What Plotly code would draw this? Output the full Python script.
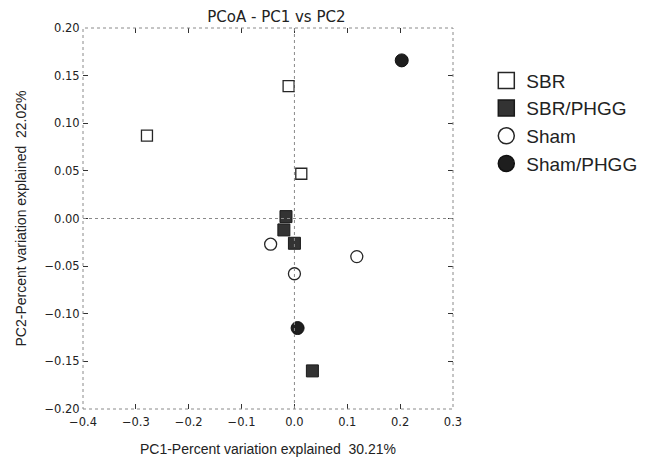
import plotly.graph_objects as go

groups = ["SBR", "SBR/PHGG", "Sham", "Sham/PHGG"]
sbr_x = [-0.279, -0.011, 0.013]
sbr_y = [0.087, 0.139, 0.047]
sbrp_x = [-0.016, -0.020, 0.000, 0.034]
sbrp_y = [0.002, -0.012, -0.026, -0.160]
sham_x = [-0.045, 0.000, 0.118]
sham_y = [-0.027, -0.058, -0.040]
shamp_x = [0.203, 0.006]
shamp_y = [0.166, -0.115]

x_ticks = [-0.4, -0.3, -0.2, -0.1, 0.0, 0.1, 0.2, 0.3]
y_ticks = [-0.20, -0.15, -0.10, -0.05, 0.00, 0.05, 0.10, 0.15, 0.20]

dark = "#262626"
styles = [
    dict(symbol="square-open", color=dark, size=11, line=dict(width=1.3, color=dark)),
    dict(symbol="square", color="#333333", size=12, line=dict(width=1, color="#1a1a1a")),
    dict(symbol="circle-open", color=dark, size=12, line=dict(width=1.3, color=dark)),
    dict(symbol="circle", color="#1e1e1e", size=13, line=dict(width=1, color="#111111")),
]
data = [(sbr_x, sbr_y), (sbrp_x, sbrp_y), (sham_x, sham_y), (shamp_x, shamp_y)]

fig = go.Figure()
for name, (xs, ys), st in zip(groups, data, styles):
    fig.add_trace(go.Scatter(x=xs, y=ys, mode="markers", name=name, showlegend=False,
                             marker=dict(symbol=st["symbol"], color=st["color"], size=st["size"], line=st["line"])))
for name, st in zip(groups, styles):
    big = dict(st["line"])
    big["width"] = 1.5
    fig.add_trace(go.Scatter(x=[None], y=[None], mode="markers", name=name,
                             marker=dict(symbol=st["symbol"], color=st["color"], size=18, line=big)))

# dotted frame and zero reference lines
fig.add_shape(type="rect", xref="x domain", yref="y domain", x0=0, x1=1, y0=0, y1=1,
              line=dict(color="#8a8a8a", width=1, dash="dot"))
fig.add_shape(type="line", xref="x", yref="y domain", x0=0, x1=0, y0=0, y1=1,
              line=dict(color="#8a8a8a", width=1, dash="dot"))
fig.add_shape(type="line", xref="x domain", yref="y", x0=0, x1=1, y0=0, y1=0,
              line=dict(color="#8a8a8a", width=1, dash="dot"))

tickfont = dict(family="DejaVu Sans", size=11.5, color="#222")
fig.update_layout(
    width=666, height=460,
    margin=dict(l=75, r=221, t=20, b=59),
    paper_bgcolor="white", plot_bgcolor="white",
    title=dict(text="PCoA - PC1 vs PC2", x=0.403, xanchor="center", y=0.982, yanchor="middle",
               font=dict(family="DejaVu Sans", size=15, color="#222")),
    xaxis=dict(range=[-0.4, 0.3], tickvals=x_ticks, tickformat=".1f", showgrid=False, zeroline=False,
               ticks="inside", ticklen=5, tickwidth=1.2, tickcolor="#333", mirror="ticks", showline=True,
               linecolor="rgba(0,0,0,0)", linewidth=1, ticklabelstandoff=2,
               tickfont=tickfont,
               title=dict(text="PC1-Percent variation explained  30.21%", standoff=16,
                          font=dict(family="Liberation Sans", size=14, color="#222"))),
    yaxis=dict(range=[-0.2, 0.2], tickvals=y_ticks, tickformat=".2f", showgrid=False, zeroline=False,
               ticks="inside", ticklen=5, tickwidth=1.2, tickcolor="#333", mirror="ticks", showline=True,
               linecolor="rgba(0,0,0,0)", linewidth=1,
               tickfont=tickfont,
               title=dict(text="PC2-Percent variation explained  22.02%", standoff=14,
                          font=dict(family="Liberation Sans", size=14, color="#222"))),
    legend=dict(x=1.09, xanchor="left", y=0.912, yanchor="top", tracegroupgap=0,
                font=dict(family="Liberation Sans", size=19, color="#222"),
                itemwidth=30, bgcolor="rgba(0,0,0,0)"),
)

fig.write_html("out.html")
